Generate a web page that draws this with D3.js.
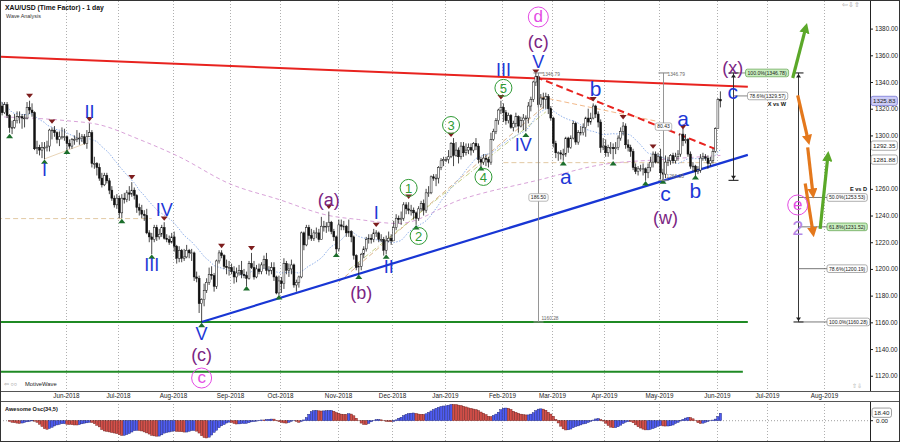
<!DOCTYPE html>
<html><head><meta charset="utf-8">
<script src="https://cdn.jsdelivr.net/npm/d3@7/dist/d3.min.js"></script>
<style>
html,body{margin:0;padding:0;background:#fff;}
svg{display:block;font-family:"Liberation Sans",Arial,sans-serif;}
</style></head><body>
<svg id="chart" width="900" height="442"></svg>
<script>
// ================= DATA (XAU/USD daily, 2018-04-24 .. 2019-06-04, weekdays) =================
const opens = [
1324,1332,1322,1317,1323,
1315,1306,1306,1311,1314,1314,1313,1313,1321,1319,1317,1290,1291,1289,1291,1291,1292,1304,1304,1302,1297,1299,1299,
1299,1294,1292,1297,1297,1298,1298,1299,1294,1299,1302,1279,1279,1276,1268,1263,1270,1266,1259,1253,1248,
1253,1242,1253,1252,1257,1256,1259,1255,1246,1244,1241,1240,1227,1224,1222,1231,1224,1226,1231,1223,1222,1220,
1224,1217,1208,1214,1208,1209,1214,1212,1212,1194,1193,1174,1177,1184,1190,1196,1195,1187,1206,1212,1210,1202,1201,
1201,1198,1194,1197,1199,1196,1195,1193,1204,1201,1194,1200,1198,1203,1207,1199,1199,1201,1194,1182,
1191,1189,1204,1199,1200,1203,1188,1190,1194,1227,1218,1231,1225,1223,1227,1227,1222,1232,1232,1232,1235,1228,1224,
1215,1233,1232,1232,1227,1228,1224,1210,1201,1202,1211,1215,1222,1223,1222,1227,1227,1222,1222,1214,1221,1223,
1221,1231,1238,1237,1238,1248,1245,1244,1244,1242,1238,1245,1249,1244,1257,1257,1269,1268,1268,1276,1281,
1282,1282,1284,1294,1285,1289,1284,1292,1287,1289,1291,1289,1294,1292,1282,1280,1283,1282,1280,1297,1303,1311,1319,
1321,1317,1311,1315,1306,1309,1314,1307,1311,1313,1313,1322,1327,1340,1344,1323,1328,1327,1329,1320,
1313,1294,1287,1287,1286,1286,1298,1291,1298,1309,1295,1302,1302,1306,1313,1310,1313,1322,1316,1310,1291,
1292,1287,1291,1291,1290,1291,1298,1303,1307,1293,1291,1288,1276,1273,1275,1275,1275,1272,1276,1280,1286,1280,
1284,1272,1271,1280,1281,1285,1281,1284,1286,1301,1296,1297,1286,1277,1277,1273,1274,1283,1284,1283,1279,1281,1288,
1305,1327];
const highs = [
1334,1334,1325,1325,1325,
1316,1311,1316,1318,1318,1316,1316,1325,1326,1324,1318,1296,1293,1295,1295,1296,1305,1306,1307,1303,1303,1306,1305,
1300,1297,1298,1300,1304,1302,1301,1301,1304,1309,1304,1284,1280,1279,1272,1272,1272,1268,1262,1255,1256,
1255,1256,1257,1259,1262,1265,1261,1256,1249,1248,1244,1245,1229,1227,1233,1233,1230,1233,1235,1226,1225,1227,
1228,1218,1217,1215,1215,1218,1215,1215,1213,1198,1195,1178,1189,1193,1201,1202,1197,1207,1214,1214,1211,1207,1206,
1204,1202,1201,1203,1206,1200,1198,1206,1212,1206,1203,1204,1205,1210,1212,1202,1205,1205,1195,1195,
1194,1208,1206,1204,1207,1204,1192,1195,1228,1228,1233,1233,1230,1229,1231,1230,1239,1236,1235,1243,1236,1230,1225,
1237,1237,1236,1233,1237,1229,1225,1211,1205,1212,1217,1224,1226,1226,1230,1229,1228,1226,1224,1225,1228,1226,
1236,1241,1240,1243,1250,1250,1250,1248,1246,1243,1247,1251,1252,1260,1262,1270,1271,1271,1277,1283,1284,
1284,1289,1295,1298,1295,1291,1295,1295,1294,1294,1294,1295,1298,1294,1284,1286,1286,1284,1302,1305,1313,1320,1326,
1324,1319,1317,1316,1311,1317,1315,1314,1316,1315,1325,1329,1341,1347,1345,1331,1332,1332,1331,1322,
1314,1296,1288,1289,1290,1299,1299,1300,1311,1310,1304,1307,1309,1314,1320,1317,1324,1323,1318,1312,1298,
1297,1293,1295,1294,1295,1300,1306,1310,1309,1297,1293,1290,1279,1277,1278,1279,1276,1279,1284,1288,1288,1287,
1290,1275,1285,1284,1286,1287,1287,1289,1301,1305,1301,1298,1288,1280,1278,1277,1286,1287,1286,1285,1284,1290,1306,
1328,1333];
const lows = [
1322,1321,1315,1316,1313,
1302,1301,1305,1309,1309,1305,1306,1312,1316,1314,1289,1286,1285,1283,1282,1288,1288,1297,1299,1294,1292,1297,1296,
1288,1290,1290,1293,1295,1293,1295,1293,1290,1299,1276,1275,1270,1266,1261,1262,1264,1256,1251,1246,1245,
1238,1238,1249,1250,1251,1254,1252,1242,1240,1238,1236,1226,1220,1211,1220,1221,1222,1224,1222,1220,1218,1219,
1213,1204,1205,1205,1206,1208,1208,1206,1191,1190,1167,1160,1172,1182,1188,1192,1183,1185,1204,1208,1200,1196,1195,
1196,1189,1190,1195,1193,1193,1187,1192,1200,1192,1193,1196,1196,1200,1196,1195,1196,1191,1181,1180,
1182,1185,1196,1194,1196,1186,1183,1186,1193,1214,1217,1222,1221,1221,1223,1220,1222,1228,1227,1228,1226,1221,1211,
1213,1229,1229,1224,1224,1220,1207,1199,1196,1199,1208,1213,1219,1219,1220,1224,1220,1220,1210,1211,1220,1218,
1221,1229,1234,1233,1236,1241,1241,1240,1237,1233,1236,1243,1240,1242,1254,1256,1266,1262,1264,1274,1277,
1280,1279,1283,1277,1284,1279,1282,1284,1285,1286,1285,1287,1289,1279,1276,1278,1277,1276,1278,1296,1301,1308,1316,
1310,1308,1309,1305,1303,1306,1302,1306,1304,1303,1309,1318,1325,1337,1321,1321,1320,1320,1316,1311,
1291,1283,1281,1282,1281,1284,1287,1290,1297,1293,1293,1300,1300,1299,1307,1308,1312,1313,1306,1287,1289,
1284,1284,1286,1282,1286,1289,1296,1300,1290,1288,1284,1274,1271,1270,1273,1270,1266,1268,1273,1276,1279,1279,
1267,1266,1268,1277,1278,1279,1279,1281,1284,1292,1294,1284,1275,1273,1269,1271,1272,1281,1281,1275,1277,1279,1287,
1305,1321];
const closes = [
1332,1322,1317,1323,1315,
1306,1306,1311,1314,1314,1313,1313,1321,1319,1317,1290,1291,1289,1291,1291,1292,1304,1304,1302,1297,1299,1299,1299,
1294,1292,1297,1297,1298,1298,1299,1294,1299,1302,1279,1279,1276,1268,1263,1270,1266,1259,1253,1248,1253,
1242,1253,1252,1257,1256,1259,1255,1246,1244,1241,1240,1227,1224,1222,1231,1224,1226,1231,1223,1222,1220,1224,
1217,1208,1214,1208,1209,1214,1212,1212,1194,1193,1174,1177,1184,1190,1196,1195,1187,1206,1212,1210,1202,1201,1201,
1198,1194,1197,1199,1196,1195,1193,1204,1201,1194,1200,1198,1203,1207,1199,1199,1201,1194,1182,1191,
1189,1204,1199,1200,1203,1188,1190,1194,1227,1218,1231,1225,1223,1227,1227,1222,1232,1232,1232,1235,1228,1224,1215,
1233,1232,1232,1227,1228,1224,1210,1201,1202,1211,1215,1222,1223,1222,1227,1227,1222,1222,1214,1221,1223,1221,
1231,1238,1237,1238,1248,1245,1244,1244,1242,1238,1245,1249,1244,1257,1257,1269,1268,1268,1276,1281,1282,
1282,1284,1294,1285,1289,1284,1292,1287,1289,1291,1289,1294,1292,1282,1280,1283,1282,1280,1297,1303,1311,1319,1321,
1317,1311,1315,1306,1309,1314,1307,1311,1313,1313,1322,1327,1340,1344,1323,1328,1327,1329,1320,1313,
1294,1287,1287,1286,1286,1298,1291,1298,1309,1295,1302,1302,1306,1313,1310,1313,1322,1316,1310,1291,1292,
1287,1291,1291,1290,1291,1298,1303,1307,1293,1291,1288,1276,1273,1275,1275,1275,1272,1276,1280,1286,1280,1284,
1272,1271,1280,1281,1285,1281,1284,1286,1301,1296,1297,1286,1277,1277,1273,1274,1283,1284,1283,1279,1281,1288,1305,
1327,1325.83];

// slow moving average (pink dashed)
const slowMaDates = ["2018-04-24","2018-06-01","2018-06-20","2018-07-12","2018-08-03","2018-08-31","2018-09-28","2018-10-26","2018-11-13","2018-12-05","2019-01-09","2019-02-22","2019-03-28","2019-05-02","2019-06-04"];
const slowMaVals  = [1314,1311,1308,1297,1284,1264,1252,1240,1237,1234,1252,1267,1278,1282,1285];

// swing markers
const hiDates  = ["2018-05-11","2018-05-24","2018-06-14","2018-07-09","2018-07-26","2018-08-28","2018-09-13","2018-10-26","2018-11-22","2018-12-11","2019-01-03","2019-01-31","2019-02-20","2019-03-25","2019-04-10","2019-04-26","2019-05-14"];
const hiPrices = [1329.6,1310.3,1312.1,1268.7,1237.7,1217.2,1215.5,1246.6,1233.0,1254.1,1300.4,1328.6,1347.8,1327.1,1313.6,1291.6,1306.1];
const loDates  = ["2018-05-01","2018-05-21","2018-06-01","2018-07-03","2018-07-19","2018-08-16","2018-09-11","2018-09-28","2018-10-31","2018-11-13","2018-11-28","2018-12-14","2019-01-21","2019-02-14","2019-03-07","2019-04-04","2019-04-23","2019-05-02","2019-05-21"];
const loPrices = [1299.6,1280.4,1287.8,1235.9,1209.2,1158.0,1185.5,1178.8,1210.5,1194.2,1209.2,1231.2,1275.4,1300.4,1279.2,1279.2,1264.2,1265.4,1268.7];

// Elliott wave labels
const waveText   = ["d","(c)","V","III","5","IV","4","3","1","2","I","II","(b)","(a)","I","II","III","IV","V","(c)","c","a","b","c","(w)","a","b","(x)","c","e","2"];
const waveDate   = ["2019-02-21","2019-02-21","2019-02-21","2019-02-01","2019-02-01","2019-02-13","2019-01-22","2019-01-03","2018-12-11","2018-12-17","2018-11-22","2018-11-29","2018-11-14","2018-10-26","2018-05-21","2018-06-14","2018-07-19","2018-07-26","2018-08-16","2018-08-16","2018-08-16","2019-03-08","2019-03-26","2019-05-03","2019-05-03","2019-05-14","2019-05-21","2019-06-11","2019-06-11","2019-07-17","2019-07-17"];
const wavePrice  = [1388.7,1370.5,1355.5,1349.0,1335.6,1292.9,1268.9,1307.8,1260.7,1224.7,1241.9,1201.5,1182.0,1251.7,1274.1,1317.6,1203.0,1244.2,1152.0,1135.6,1118.3,1268.1,1334.1,1255.4,1238.2,1311.6,1257.7,1351.0,1331.8,1247.9,1230.7];
const waveDegree = ["pinkCircle","purple","blue","blue","greenCircle","blue","greenCircle","greenCircle","greenCircle","greenCircle","blue","blue","purple","purple","blue","blue","blue","blue","blue","purple","pinkCircle","blue","blue","blue","purple","blue","blue","purple","blue","pinkCircle","lavender"];

// trend / channel lines [date, price]
const redResistance = [["2018-04-24",1359.0],["2019-06-19",1336.4]];
const redDashed     = [["2019-02-20",1343.8],["2019-06-03",1289.1]];
const blueSupport   = [["2018-08-16",1160.28],["2019-06-19",1285.4]];
const greenLevelA   = [["2018-04-24",1160.28],["2019-06-19",1160.28]];
const greenLevelB   = [["2018-04-24",1123.0],["2019-06-17",1123.0]];
const tanLevelA     = [["2018-04-24",1237.7],["2018-07-19",1237.7]];
const tanLevelB     = [["2019-02-01",1279.6],["2019-06-04",1279.6]];
const tanChannel    = [["2018-11-01",1190.2],["2019-02-26",1322.8]];
const oliveChannel  = [["2018-11-07",1199.2],["2019-02-26",1317.6]];
const orangeDash    = [["2019-02-22",1328.8],["2019-04-29",1310.8]];
const tanThin       = [["2018-05-21",1282.4],["2018-06-13",1294.4]];

// measurements
const swingHigh = 1346.79, fibHigh = 1346.78, swingLow = 1160.28, cLow = 1266.35;
const xwLevels  = [["100.0%",1346.78,true],["78.6%",1329.57,false]];
const edLevels  = [["50.0%",1253.53,false],["61.8%",1231.52,true],["78.6%",1200.19,false],["100.0%",1160.28,false]];
const axisBoxes = [[1325.83,"cur"],[1292.35,"ma"],[1281.88,"ma"]];

// projected path arrows
const greenArrows  = [[["2019-07-15",1343],["2019-07-22",1379]],[["2019-07-30",1230],["2019-08-02",1283]]];
const orangeArrows = [[["2019-07-17",1330],["2019-07-23",1298]],[["2019-07-23",1291],["2019-07-25",1258]],[["2019-07-22",1264],["2019-07-25",1229]]];

const priceTicks = d3.range(1120, 1381, 20);

// ================= LAYOUT =================
const plotR = 870, mainB = 391, oscT = 401, oscB = 441;
const days = d3.timeDay.range(new Date(2018,3,24), new Date(2019,8,1)).filter(d => d.getDay() % 6 !== 0);
const fmt = d3.timeFormat("%Y-%m-%d");
const idxOf = new Map(days.map((d,i) => [fmt(d), i]));
const di = s => idxOf.get(s);

const x  = d3.scaleLinear().domain([di("2018-06-01"), di("2019-06-03")]).range([66.95, 717.9]);
const y  = d3.scaleLinear().domain([1120, 1380]).range([375.75, 28.6]);
const yo = d3.scaleLinear().domain([0, 18.4]).range([420.7, 412.7]);
const xd = s => x(di(s));
const half = (x(1) - x(0)) / 2;

const svg = d3.select("#chart");
svg.append("rect").attr("width",900).attr("height",442).attr("fill","#fff");
const defs = svg.append("defs");
defs.append("clipPath").attr("id","cm").append("rect").attr("x",1).attr("y",1).attr("width",plotR-1).attr("height",mainB-1);
defs.append("clipPath").attr("id","co").append("rect").attr("x",1).attr("y",oscT).attr("width",plotR-1).attr("height",oscB-oscT);
[["ahG","#5ba829"],["ahO","#e4781c"]].forEach(([id,col]) => {
  defs.append("marker").attr("id",id).attr("viewBox","0 0 10 10").attr("refX",3).attr("refY",5)
    .attr("markerWidth",3.2).attr("markerHeight",3.2).attr("orient","auto")
    .append("path").attr("d","M0,0 L10,5 L0,10 Z").attr("fill",col);
});

// month grid
const months = d3.timeMonth.range(new Date(2018,5,1), new Date(2019,7,2));
const monthIdx = months.map(m => days.findIndex(d => d >= m));
const gGrid = svg.append("g");
const gxOf = i => Math.round(x(i) - half) + 0.5;
gGrid.selectAll("line.gm").data(monthIdx).join("line").attr("class","gm")
  .attr("x1",gxOf).attr("x2",gxOf).attr("y1",1).attr("y2",mainB)
  .attr("stroke","#9a9a9a").attr("stroke-width",0.8).attr("stroke-dasharray","1,2");
gGrid.selectAll("line.go").data(monthIdx).join("line").attr("class","go")
  .attr("x1",gxOf).attr("x2",gxOf).attr("y1",oscT).attr("y2",oscB)
  .attr("stroke","#9a9a9a").attr("stroke-width",0.8).attr("stroke-dasharray","1,2");
svg.append("g").selectAll("text").data(months).join("text")
  .attr("x",(m,k)=>gxOf(monthIdx[k])).attr("y",398.3).attr("text-anchor","middle")
  .attr("font-size",6.3).attr("fill","#222").text(d3.timeFormat("%b-%Y"));

// main clipped layer
const gM = svg.append("g").attr("clip-path","url(#cm)");
const seg = (pts, col, w, dash, g=gM) => g.append("line")
  .attr("x1",xd(pts[0][0])).attr("y1",y(pts[0][1])).attr("x2",xd(pts[1][0])).attr("y2",y(pts[1][1]))
  .attr("stroke",col).attr("stroke-width",w).attr("stroke-dasharray",dash||null);

seg(tanLevelA,"#e2c9a4",1,"5,3");
seg(tanLevelB,"#e2c9a4",1,"5,3");
seg(tanChannel,"#dcb68e",1,"5,3");
seg(oliveChannel,"#c5cf86",1,"5,2,1,2");
seg(orangeDash,"#f2b98a",1,"5,3");
seg(tanThin,"#e2c9a4",0.8,null);

// slow MA
gM.append("path").datum(slowMaDates.map((d,k)=>[xd(d), y(slowMaVals[k])]))
  .attr("d", d3.line().curve(d3.curveMonotoneX)).attr("fill","none")
  .attr("stroke","#d9a3d9").attr("stroke-width",1).attr("stroke-dasharray","4,3");

// fast MA (20-bar SMA of closes)
const sma20 = closes.map((c,i) => d3.mean(closes.slice(Math.max(0,i-19), i+1)));
gM.append("path").datum(sma20.map((v,i)=>[x(i), y(v)]))
  .attr("d", d3.line()).attr("fill","none")
  .attr("stroke","#8fb0ea").attr("stroke-width",1).attr("stroke-dasharray","1.5,1.5");

// horizontal levels / trend lines
seg(greenLevelA,"#1f8a24",2);
seg(greenLevelB,"#1f8a24",2);
seg(redResistance,"#e8231f",2);
seg(blueSupport,"#1836d4",2.2);
seg(redDashed,"#e8231f",2,"7,4");

// candles
const bars = closes.map((c,i) => ({i, o:opens[i], h:highs[i], l:lows[i], c}));
gM.selectAll("line.wk").data(bars).join("line").attr("class","wk")
  .attr("x1",d=>x(d.i)).attr("x2",d=>x(d.i)).attr("y1",d=>y(d.h)).attr("y2",d=>y(d.l))
  .attr("stroke","#1a1a1a").attr("stroke-width",0.8);
gM.selectAll("rect.bd").data(bars).join("rect").attr("class","bd")
  .attr("x",d=>x(d.i)-0.95).attr("width",1.9)
  .attr("y",d=>y(Math.max(d.o,d.c))).attr("height",d=>Math.max(0.8, Math.abs(y(d.o)-y(d.c))))
  .attr("fill",d=>d.c>=d.o?"#fff":"#111").attr("stroke","#111").attr("stroke-width",0.5);

// swing markers
gM.selectAll("path.hm").data(hiDates).join("path").attr("class","hm")
  .attr("d",(d,k)=>{const cx=xd(d), cy=y(hiPrices[k]); return `M${cx-3.5},${cy-2.2}L${cx+3.5},${cy-2.2}L${cx},${cy+2.2}Z`;})
  .attr("fill","#7d1d1d");
gM.selectAll("path.lm").data(loDates).join("path").attr("class","lm")
  .attr("d",(d,k)=>{const cx=xd(d), cy=y(loPrices[k]); return `M${cx-3.5},${cy+2.2}L${cx+3.5},${cy+2.2}L${cx},${cy-2.2}Z`;})
  .attr("fill","#1c6e2c");

// helpers
const txt = (g, xx, yy, s, size, col, anchor, weight) => g.append("text").attr("x",xx).attr("y",yy)
  .attr("font-size",size).attr("fill",col).attr("text-anchor",anchor||"start").attr("font-weight",weight||null).text(s);
function box(g, xx, yc, s, size, fill, stroke) {
  const t = txt(g, xx+2, yc+size*0.36, s, size, "#222");
  const w = t.node().getComputedTextLength() + 4;
  g.insert("rect", () => t.node()).attr("x",xx).attr("y",yc-size*0.75).attr("width",w).attr("height",size*1.5)
    .attr("rx",2).attr("fill",fill).attr("stroke",stroke).attr("stroke-width",0.7);
  return w;
}
function measure(dateStr, p1, p2, col, w, arrows) {
  const mx = Math.round(xd(dateStr)) + 0.5;
  gM.append("line").attr("x1",mx).attr("x2",mx).attr("y1",y(p1)).attr("y2",y(p2)).attr("stroke",col).attr("stroke-width",w);
  [p1,p2].forEach((p,k) => {
    const yy = y(p);
    gM.append("line").attr("x1",mx-5).attr("x2",mx+5).attr("y1",yy).attr("y2",yy).attr("stroke",col).attr("stroke-width",w+0.2);
    if (arrows) {
      const s = k===0 ? 1 : -1;
      gM.append("path").attr("d",`M${mx-2.5},${yy+s*4.5}L${mx+2.5},${yy+s*4.5}L${mx},${yy+s*1}Z`).attr("fill",col);
    }
  });
  return mx;
}

const mA = measure("2019-02-21", swingHigh, swingLow, "#8a8a8a", 0.9, false);
txt(gM, mA+4, y(swingHigh)+3, swingHigh.toFixed(2), 4.8, "#666");
txt(gM, mA+3, y(swingLow)-2, swingLow.toFixed(2), 4.8, "#666");
{ const g = gM.append("g"); const w = box(g, 0, (y(swingHigh)+y(swingLow))/2, (fibHigh-swingLow).toFixed(2), 5, "#fff", "#999"); g.attr("transform",`translate(${mA-w/2},0)`); }
const mB = measure("2019-05-02", swingHigh, cLow, "#8a8a8a", 0.9, false);
txt(gM, mB+4, y(swingHigh)+3, swingHigh.toFixed(2), 4.8, "#666");
txt(gM, mB+3, y(cLow)-2, cLow.toFixed(2), 4.8, "#666");
{ const g = gM.append("g"); const w = box(g, 0, (y(swingHigh)+y(cLow))/2, (fibHigh-cLow).toFixed(2), 5, "#fff", "#999"); g.attr("transform",`translate(${mB-w/2},0)`); }

const mC = measure("2019-06-11", swingHigh, cLow, "#222", 0.9, true);
const mD = measure("2019-07-17", swingHigh, swingLow, "#222", 0.9, true);

// fib labels
xwLevels.forEach(([pct,val,green],k) => {
  const yy = y(val), x0 = mC + (k===0?12:14);
  gM.append("line").attr("x1",mC).attr("x2",x0).attr("y1",yy).attr("y2",yy).attr("stroke","#666").attr("stroke-width",0.8);
  box(gM, x0, yy, `${pct}(${val.toFixed(2)})`, 5.1, green?"#c9efbf":"#fff", green?"#5c9e4a":"#8a8a8a");
});
txt(gM, 786, 106, "X vs W", 5.6, "#111", "end", "bold");
edLevels.forEach(([pct,val,green]) => {
  const yy = y(val);
  gM.append("line").attr("x1",mD).attr("x2",827).attr("y1",yy).attr("y2",yy).attr("stroke","#555").attr("stroke-width",0.8);
  box(gM, 827, yy, `${pct}(${val.toFixed(2)})`, 5.1, green?"#c9efbf":"#fff", green?"#5c9e4a":"#8a8a8a");
});
txt(gM, 867, 191, "E vs D", 5.6, "#111", "end", "bold");

// projected arrows
greenArrows.forEach(a => seg(a,"#5ba829",3.2).attr("marker-end","url(#ahG)"));
orangeArrows.forEach(a => seg(a,"#e4781c",3.2).attr("marker-end","url(#ahO)"));

// wave labels
const styles = {
  blue:{col:"#1d37d6", size:18},
  purple:{col:"#7b2583", size:18},
  lavender:{col:"#b585e6", size:20},
  greenCircle:{col:"#2f9b35", size:13, r:8.5},
  pinkCircle:{col:"#e44ce4", size:17, r:10}
};
waveText.forEach((t,k) => {
  const st = styles[waveDegree[k]], cx = xd(waveDate[k]), cy = y(wavePrice[k]);
  if (st.r) gM.append("circle").attr("cx",cx).attr("cy",cy).attr("r",st.r).attr("fill","none").attr("stroke",st.col).attr("stroke-width",1);
  const lower = /^[a-z]$/.test(t);
  const fs = (waveDegree[k]==="blue" && lower) ? 21 : st.size;
  gM.append("text").attr("x",cx).attr("y",cy + fs*(lower?0.28:0.36)).attr("text-anchor","middle")
    .attr("font-size", fs).attr("fill",st.col).text(t);
});

// small UI glyphs and titles
txt(svg, 842, 7, "⇦⇩⇧", 6.5, "#999");
txt(svg, 852, 388, "⇧⇩", 6, "#aaa");
txt(svg, 4, 386, "⇦ ○○", 5.5, "#777");
txt(svg, 25, 386, "MotiveWave", 5.8, "#222");
txt(svg, 5, 10, "XAU/USD (Time Factor) - 1 day", 6.8, "#111", "start", "bold");
txt(svg, 6, 17.5, "Wave Analysis", 5.4, "#333");

// price axis (tick labels hidden where a value box sits on top of them, as in the reference)
const coveredTick = t => axisBoxes.some(([v]) => Math.abs(y(v) - y(t)) < 6);
const gAx = svg.append("g").attr("transform",`translate(${plotR},0)`);
gAx.append("line").attr("x1",0.5).attr("x2",0.5).attr("y1",0).attr("y2",mainB).attr("stroke","#222");
gAx.call(d3.axisRight(y).tickValues(priceTicks).tickFormat(t => coveredTick(t) ? "" : d3.format(".2f")(t)).tickSize(3).tickPadding(2))
   .call(g => g.select(".domain").remove())
   .call(g => g.selectAll("text").attr("font-size",6.4).attr("fill","#222").attr("font-family","Liberation Sans, Arial"))
   .call(g => g.selectAll("line").attr("stroke","#222"));
const gBoxes = svg.append("g");
axisBoxes.forEach(([v,kind]) => box(gBoxes, 871, y(v), v.toFixed(2), 6.2, kind==="cur"?"#ccccf6":"#fff", kind==="cur"?"#6a6ad0":"#888"));

// ---------- Awesome oscillator ----------
const med = highs.map((h,i) => (h + lows[i]) / 2);
const avg = (n,i) => d3.mean(med.slice(Math.max(0,i-n+1), i+1));
const ao = med.map((_,i) => avg(5,i) - avg(34,i));
const gO = svg.append("g").attr("clip-path","url(#co)");
gO.append("line").attr("x1",0).attr("x2",plotR).attr("y1",yo(0)).attr("y2",yo(0))
  .attr("stroke","#888").attr("stroke-width",0.8).attr("stroke-dasharray","1,2");
gO.selectAll("rect").data(ao).join("rect")
  .attr("x",(v,i)=>x(i)-1.15).attr("width",2.3)
  .attr("y",v=>Math.min(yo(v),yo(0))).attr("height",v=>Math.abs(yo(v)-yo(0)))
  .attr("fill",(v,i)=> i>0 && v<ao[i-1] ? "#d4504a" : "#4f5cf2")
  .attr("stroke",(v,i)=> i>0 && v<ao[i-1] ? "#6e1d1a" : "#1e2578").attr("stroke-width",0.45);
txt(svg, 5, 410.5, "Awesome Osc(34,5)", 5.6, "#111", "start", "bold");
svg.append("line").attr("x1",plotR+0.5).attr("x2",plotR+0.5).attr("y1",oscT).attr("y2",oscB).attr("stroke","#222");
const gOb = svg.append("g");
box(gOb, 872, yo(18.4), "18.40", 6.2, "#fff", "#777");
txt(svg, 876, yo(0)+2.2, "0.00", 6.2, "#222");
svg.append("line").attr("x1",plotR).attr("x2",plotR+3).attr("y1",yo(0)).attr("y2",yo(0)).attr("stroke","#222");

// frames
svg.append("line").attr("x1",0).attr("x2",900).attr("y1",mainB+0.5).attr("y2",mainB+0.5).attr("stroke","#555");
svg.append("line").attr("x1",0).attr("x2",900).attr("y1",oscT+0.5).attr("y2",oscT+0.5).attr("stroke","#555");
svg.append("rect").attr("x",0.5).attr("y",0.5).attr("width",899).attr("height",441).attr("fill","none").attr("stroke","#333");
</script>
</body></html>
